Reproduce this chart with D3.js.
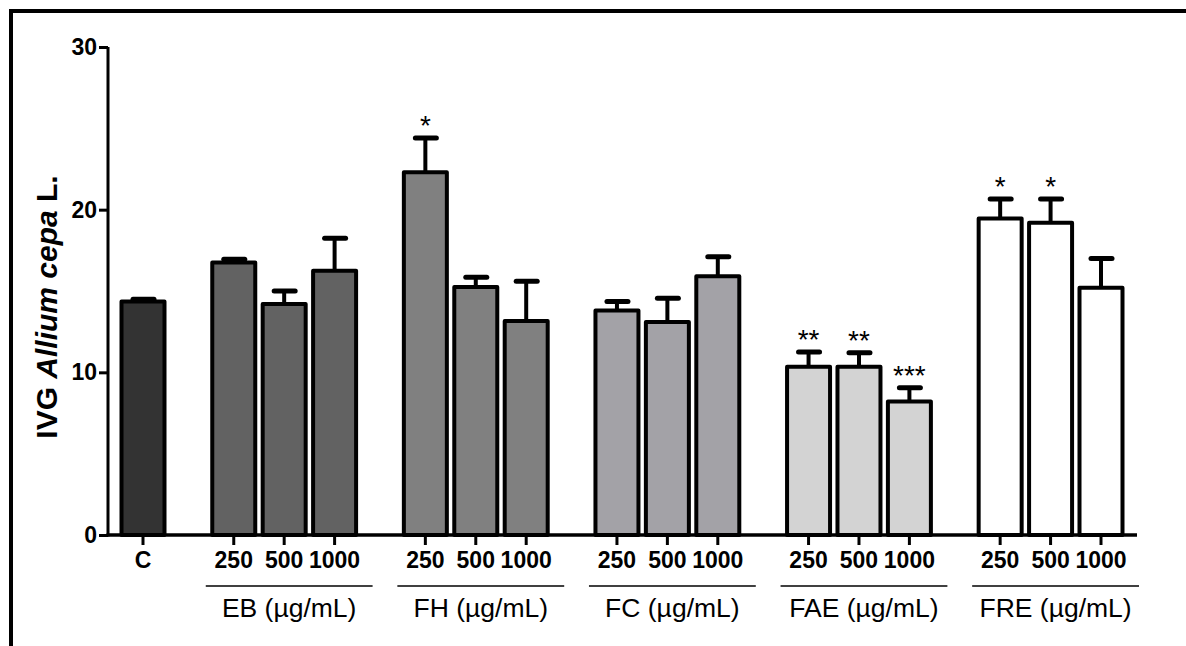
<!DOCTYPE html>
<html>
<head>
<meta charset="utf-8">
<script src="https://cdn.jsdelivr.net/npm/d3@7"></script>
<style>
body { margin: 0; background: #fff; }
text { font-family: "Liberation Sans", Arial, sans-serif; }
</style>
</head>
<body>
<script>
// data
var groups = ["C", "EB", "FH", "FC", "FAE", "FRE"];
var groupLabels = ["", "EB (µg/mL)", "FH (µg/mL)", "FC (µg/mL)", "FAE (µg/mL)", "FRE (µg/mL)"];
var doses = ["250", "500", "1000"];
var means = [14.35, 16.75, 14.2, 16.25, 22.3, 15.25, 13.15, 13.8, 13.1, 15.9, 10.35, 10.35, 8.2, 19.45, 19.2, 15.2];
var sem = [0.15, 0.2, 0.8, 2.0, 2.1, 0.6, 2.45, 0.55, 1.45, 1.2, 0.9, 0.85, 0.85, 1.2, 1.45, 1.8];
var sig = ["", "", "", "", "*", "", "", "", "", "", "**", "**", "***", "*", "*", ""];
var yTicks = [0, 10, 20, 30];
var colors = ["#333333", "#626262", "#808080", "#a3a2a7", "#d3d3d3", "#ffffff"];

var W = 1186, H = 646;

var svg = d3.select("body").append("svg")
    .attr("width", W)
    .attr("height", H);

// cornice
svg.append("path")
    .attr("d", "M11,646 L11,11 L1186,11")
    .attr("fill", "none")
    .attr("stroke", "#000")
    .attr("stroke-width", 4);

// costruisco le barre: gruppo, dose, posizione
var bars = [];
var k = 0;
groups.forEach(function (g, gi) {
    var n = gi == 0 ? 1 : 3;
    for (var i = 0; i < n; i++) {
        var slot = gi == 0 ? 0 : 1.8 + (gi - 1) * 3.8 + i;
        bars.push({group: gi, label: gi == 0 ? "C" : doses[i], slot: slot,
            mean: means[k], err: sem[k], sig: sig[k]});
        k++;
    }
});

var x = d3.scaleLinear().domain([0, 19]).range([143, 1101]);
var y = d3.scaleLinear().domain([0, 30]).range([535, 47]);

var bw = 43;

// asse y
var yAxis = svg.append("g")
    .attr("transform", "translate(108,0)")
    .call(d3.axisLeft(y).tickValues(yTicks).tickSize(9).tickPadding(2));
yAxis.select(".domain").attr("stroke-width", 3).attr("d", "M0," + y(30) + "V" + (y(0) + 1.5));
yAxis.selectAll(".tick line").attr("stroke-width", 3);
yAxis.selectAll(".tick text")
    .attr("font-size", "23px")
    .attr("font-weight", "bold")
    .attr("fill", "#000")
    .attr("font-family", "Liberation Sans, Arial, sans-serif");

// barre
svg.selectAll(".bar")
    .data(bars)
    .enter()
    .append("rect")
    .attr("class", "bar")
    .attr("x", function (d) { return x(d.slot) - bw / 2; })
    .attr("y", function (d) { return y(d.mean); })
    .attr("width", bw)
    .attr("height", function (d) { return y(0) - y(d.mean); })
    .attr("fill", function (d) { return colors[d.group]; })
    .attr("stroke", "#000")
    .attr("stroke-width", 4)
    .attr("stroke-linejoin", "round");

// barre di errore
svg.selectAll(".errv")
    .data(bars)
    .enter()
    .append("line")
    .attr("x1", function (d) { return x(d.slot); })
    .attr("x2", function (d) { return x(d.slot); })
    .attr("y1", function (d) { return y(d.mean); })
    .attr("y2", function (d) { return y(d.mean + d.err); })
    .attr("stroke", "#000")
    .attr("stroke-width", 4);

svg.selectAll(".errc")
    .data(bars)
    .enter()
    .append("line")
    .attr("x1", function (d) { return x(d.slot) - 10; })
    .attr("x2", function (d) { return x(d.slot) + 11; })
    .attr("y1", function (d) { return y(d.mean + d.err); })
    .attr("y2", function (d) { return y(d.mean + d.err); })
    .attr("stroke", "#000")
    .attr("stroke-width", 5)
    .attr("stroke-linecap", "round");

// asterischi
svg.selectAll(".sig")
    .data(bars.filter(function (d) { return d.sig != ""; }))
    .enter()
    .append("text")
    .attr("x", function (d) { return x(d.slot); })
    .attr("y", function (d) { return y(d.mean + d.err) - 3; })
    .attr("text-anchor", "middle")
    .attr("font-size", "28px")
    .text(function (d) { return d.sig; });

// asse x
svg.append("line")
    .attr("x1", 106.5).attr("x2", 1137)
    .attr("y1", y(0)).attr("y2", y(0))
    .attr("stroke", "#000")
    .attr("stroke-width", 3.5);

svg.selectAll(".xtick")
    .data(bars)
    .enter()
    .append("line")
    .attr("x1", function (d) { return x(d.slot); })
    .attr("x2", function (d) { return x(d.slot); })
    .attr("y1", y(0))
    .attr("y2", y(0) + 10)
    .attr("stroke", "#000")
    .attr("stroke-width", 3);

svg.selectAll(".xlab")
    .data(bars)
    .enter()
    .append("text")
    .attr("x", function (d) { return x(d.slot); })
    .attr("y", 568)
    .attr("text-anchor", "middle")
    .attr("font-size", "23px")
    .attr("font-weight", "bold")
    .text(function (d) { return d.label; });

// etichette dei gruppi
groups.forEach(function (g, gi) {
    if (gi == 0) return;
    var first = 1.8 + (gi - 1) * 3.8;
    var x1 = x(first) - 28, x2 = x(first + 2) + 38;
    svg.append("line")
        .attr("x1", x1).attr("x2", x2)
        .attr("y1", 586).attr("y2", 586)
        .attr("stroke", "#000")
        .attr("stroke-width", 1.5);
    svg.append("text")
        .attr("x", (x1 + x2) / 2)
        .attr("y", 617)
        .attr("text-anchor", "middle")
        .attr("font-size", "26.5px")
        .text(groupLabels[gi]);
});

// titolo asse y
var yl = svg.append("text")
    .attr("transform", "translate(57,307) rotate(-90)")
    .attr("text-anchor", "middle")
    .attr("font-size", "30px")
    .attr("font-weight", "bold");
yl.append("tspan").text("IVG ");
yl.append("tspan").attr("font-style", "italic").text("Allium cepa");
yl.append("tspan").text(" L.");
</script>
</body>
</html>
